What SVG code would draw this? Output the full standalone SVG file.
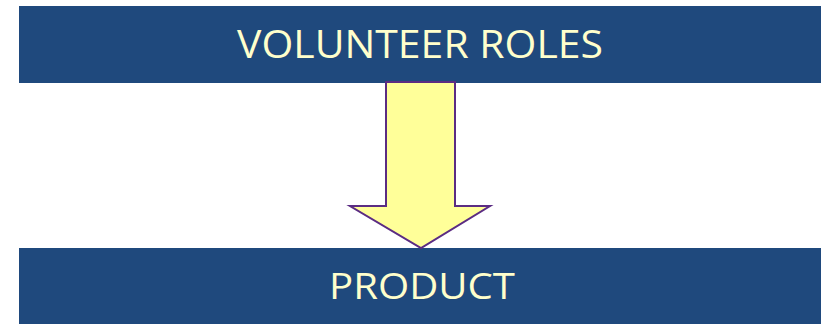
<svg xmlns="http://www.w3.org/2000/svg" width="827" height="324" viewBox="0 0 827 324">
  <style>
    .bar { fill: #1F497D; }
    .label { font-family: "Open Sans", "Noto Sans", "Liberation Sans", sans-serif; fill: #FFFFCC; text-anchor: middle; }
    .arrow { fill: #FFFF99; stroke: #5B2C83; stroke-width: 2; stroke-linejoin: miter; }
  </style>
  <rect width="827" height="324" fill="#FFFFFF"/>
  <g id="volunteer-roles">
    <rect class="bar" x="19" y="6" width="802" height="77"/>
    <text class="label" x="420" y="58" font-size="38" textLength="366" lengthAdjust="spacingAndGlyphs">VOLUNTEER ROLES</text>
  </g>
  <g id="product">
    <rect class="bar" x="19" y="248" width="802" height="76"/>
    <text class="label" x="422" y="299" font-size="37" textLength="186" lengthAdjust="spacingAndGlyphs">PRODUCT</text>
  </g>
  <g id="connectors">
    <polygon class="arrow" points="386,82 455,82 455,206 490,206 421,248 350,206 386,206"/>
  </g>
</svg>
